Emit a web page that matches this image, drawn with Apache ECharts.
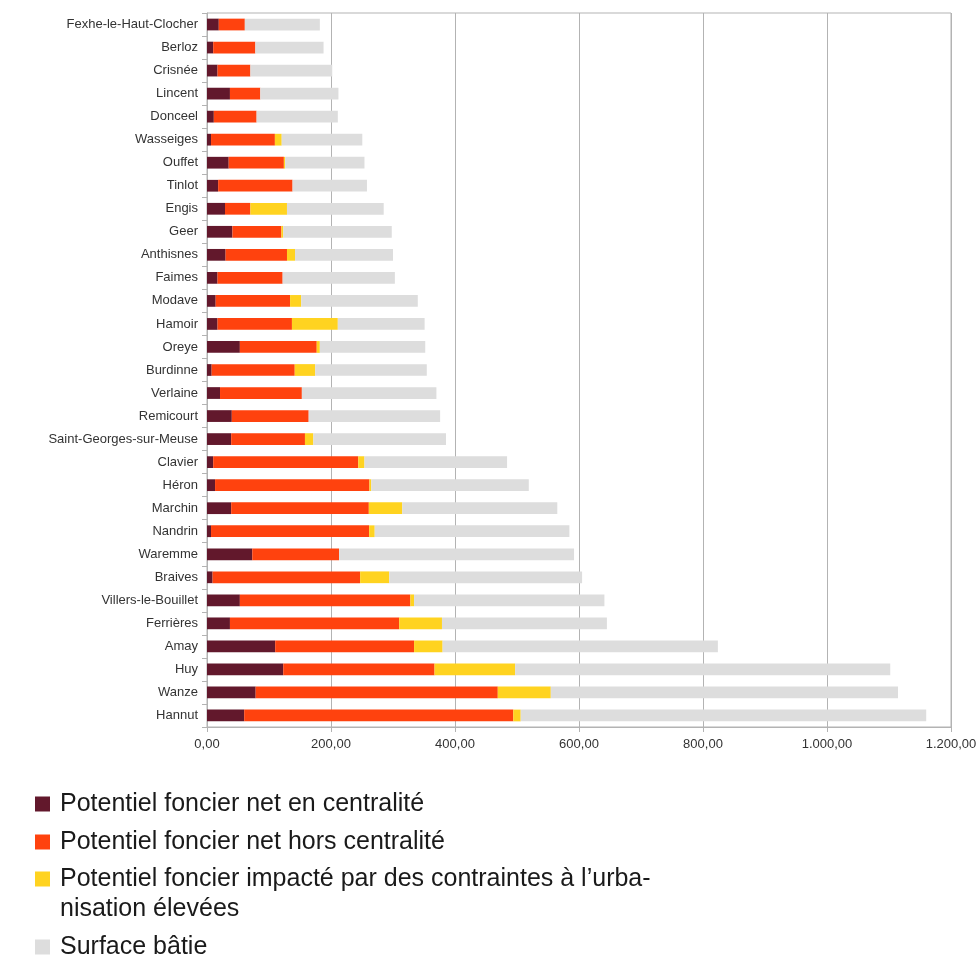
<!DOCTYPE html>
<html>
<head>
<meta charset="utf-8">
<script src="https://cdn.jsdelivr.net/npm/echarts@6/dist/echarts.min.js"></script>
<style>
html,body{margin:0;padding:0;background:#fff;}
#chart{width:976px;height:957px;}
</style>
</head>
<body>
<div id="chart"></div>
<script>
const categories = ["Fexhe-le-Haut-Clocher","Berloz","Crisnée","Lincent","Donceel","Wasseiges","Ouffet","Tinlot","Engis","Geer","Anthisnes","Faimes","Modave","Hamoir","Oreye","Burdinne","Verlaine","Remicourt","Saint-Georges-sur-Meuse","Clavier","Héron","Marchin","Nandrin","Waremme","Braives","Villers-le-Bouillet","Ferrières","Amay","Huy","Wanze","Hannut"];
const centralite = [19,10,17,37,11,6.5,35,18,29,41,30,17,14,17,53,7.5,21,40,39,10,13,39,6.5,73,9,53,37,110,123,78.5,60];
const horsCentralite = [42,68,53,49,69,103,89,120,41,79,99,105,120,120,124,134,132,124,119,234,249,222,255,140,238,275,273,224,244,390.5,434];
const contraintes = [0,0,0,0,0,11,2,0,59,3,13,0,18,74,5,33,0,0,13.5,10,3,54,9,0,47,6,69,46,130,85.5,12];
const surfaceBatie = [121,110,132,126,131,130,128,120,156,175,158,181,188,140,170,180,217,212,214,230,254,250,314,379,311,307,266,444,605,560,654];
const seriesNames = ["Potentiel foncier net en centralité","Potentiel foncier net hors centralité","Potentiel foncier impacté par des contraintes à l’urbanisation élevées","Surface bâtie"];
const xTicks = {min:0, max:1200, interval:200};

function fmt(v){
  const s = Math.abs(v).toFixed(2).split('.');
  const intPart = s[0].replace(/\B(?=(\d{3})+(?!\d))/g, '.');
  return (v<0?'-':'') + intPart + ',' + s[1];
}

const colors = ['#62182c','#ff420e','#ffd320','#dddddd'];
const dataSets = [centralite, horsCentralite, contraintes, surfaceBatie];
const FONT = '"Liberation Sans", Arial, sans-serif';

const chart = echarts.init(document.getElementById('chart'), null, {renderer:'canvas'});

const legendTops = [791, 829, 866, 934];
const legendText = {color:'#1a1a1a', fontSize:25, fontFamily:FONT, lineHeight:26, padding:[0,0,0,5]};

chart.setOption({
  animation:false,
  backgroundColor:'#ffffff',
  textStyle:{fontFamily:FONT},
  grid:{left:207, right:25, top:13, bottom:230, containLabel:false, outerBoundsMode:'none',
        show:true, borderColor:'#b3b3b3', borderWidth:1},
  xAxis:{
    type:'value', min:xTicks.min, max:xTicks.max, interval:xTicks.interval,
    axisLine:{show:true, lineStyle:{color:'#b3b3b3'}},
    axisTick:{show:true, length:5, lineStyle:{color:'#b3b3b3'}},
    splitLine:{show:true, lineStyle:{color:'#b3b3b3', width:1}},
    axisLabel:{formatter:fmt, color:'#333333', fontSize:13, fontFamily:FONT, margin:11}
  },
  yAxis:{
    type:'category', data:categories, inverse:true,
    axisLine:{show:true, lineStyle:{color:'#b3b3b3'}},
    axisTick:{show:true, length:5, lineStyle:{color:'#b3b3b3'}},
    axisLabel:{color:'#333333', fontSize:13, fontFamily:FONT, margin:9}
  },
  legend: seriesNames.map((n,i)=>({
    data:[n], left:35, top:legendTops[i], orient:'vertical', padding:0,
    itemWidth:15, itemHeight:15, itemGap:10, icon:'rect',
    formatter: i===2 ? function(){return 'Potentiel foncier impacté par des contraintes à l’urba-';} : undefined,
    textStyle:legendText, selectedMode:false
  })),
  graphic:[{
    type:'text', left:60, top:897,
    style:{text:'nisation élevées', fill:'#1a1a1a', font:'25px "Liberation Sans", Arial, sans-serif'}
  }],
  series: seriesNames.map((n,i)=>({
    name:n, type:'bar', stack:'total', data:dataSets[i],
    barWidth:'51%', itemStyle:{color:colors[i]}
  }))
});
</script>
</body>
</html>
